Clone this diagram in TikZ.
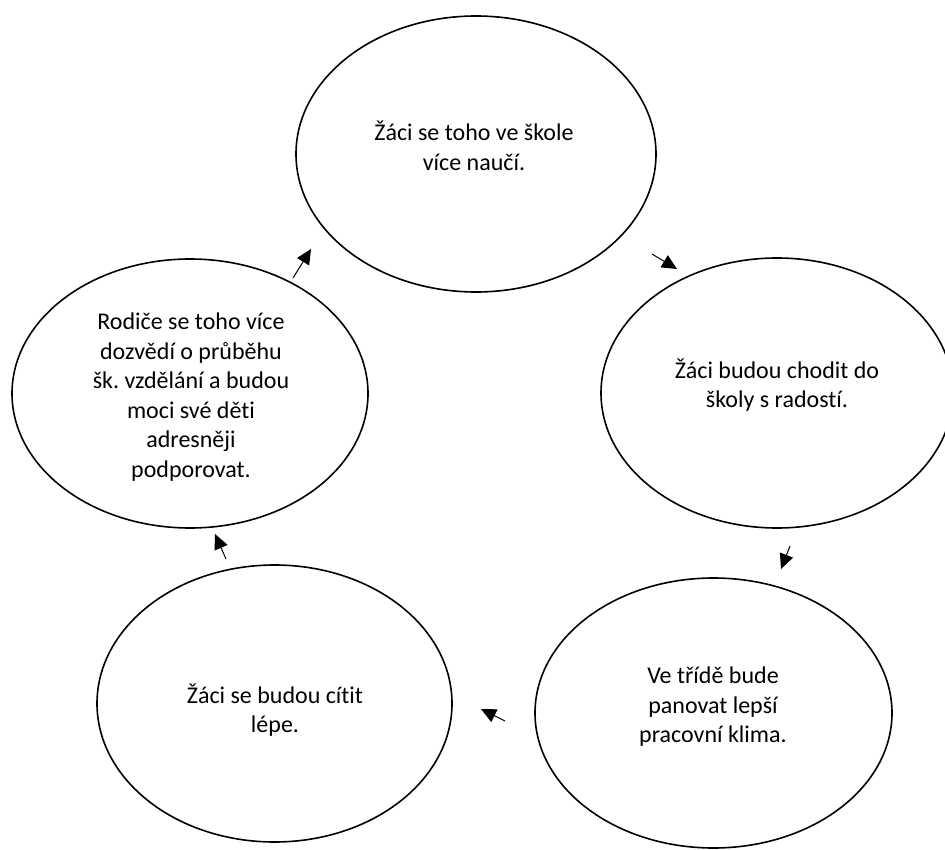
\documentclass[tikz,border=0pt]{standalone}
\usepackage{fontspec}
\setmainfont{Carlito}[Ligatures=NoCommon]
\usetikzlibrary{shapes.geometric,arrows.meta}
\frenchspacing
\begin{document}
\begin{tikzpicture}[x=1pt,y=-1pt,
  bubble/.style={draw=black,line width=1.6pt,ellipse,inner sep=0pt},
  txt/.style={align=center,font=\fontsize{24}{29.5}\selectfont,inner sep=0pt},
  arr/.style={line width=1pt,-{Triangle[length=15pt,width=14pt]}}]
\useasboundingbox (0,0) rectangle (945,850);
% ellipses
\node[bubble,minimum width=360pt,minimum height=276pt] (e1) at (476,154) {};
\node[bubble,minimum width=352pt,minimum height=270pt] (e2) at (777,393) {};
\node[bubble,minimum width=357pt,minimum height=270pt] (e3) at (713.5,713) {};
\node[bubble,minimum width=355pt,minimum height=277pt] (e4) at (274.5,703.5) {};
\node[bubble,minimum width=356pt,minimum height=269pt] (e5) at (190,393.5) {};
% texts
\node[txt] (t1) at (474,146) {Žáci se toho ve škole\\více naučí.};
\node[txt] (t2) at (777,385) {Žáci budou chodit do\\školy s radostí.};
\node[txt] (t3) at (713,707) {Ve třídě bude\\panovat lepší\\pracovní klima.};
\node[txt] (t4) at (275,710) {Žáci se budou cítit\\lépe.};
\node[txt] (t5) at (191,397) {Rodiče se toho více\\dozvědí o průběhu\\šk. vzdělání a budou\\moci své děti\\adresněji\\podporovat.};
% arrows
\coordinate (a1s) at (293,278); \coordinate (a1e) at (311,249);
\coordinate (a2s) at (652,254); \coordinate (a2e) at (677,269);
\coordinate (a3s) at (790,546); \coordinate (a3e) at (781,569);
\coordinate (a4s) at (505,721); \coordinate (a4e) at (481,709);
\coordinate (a5s) at (226,559); \coordinate (a5e) at (215,534);
\draw[arr] (a1s) -- (a1e);
\draw[arr] (a2s) -- (a2e);
\draw[arr] (a3s) -- (a3e);
\draw[arr] (a4s) -- (a4e);
\draw[arr] (a5s) -- (a5e);
\end{tikzpicture}
\end{document}
